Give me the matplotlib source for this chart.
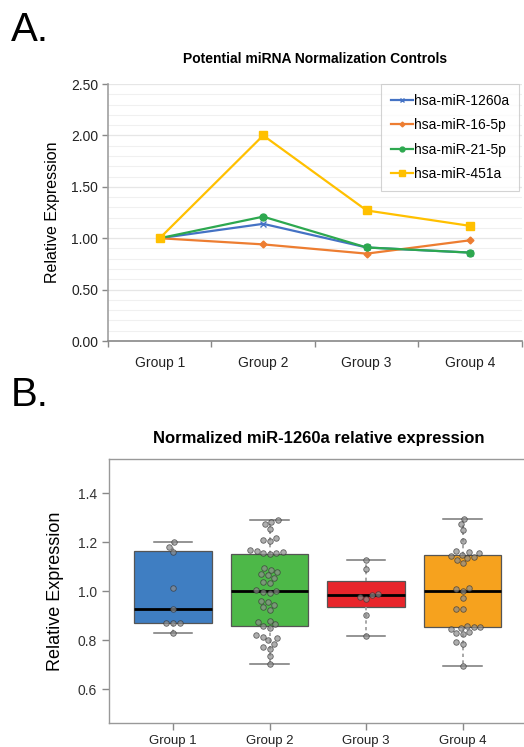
import numpy as np
import pandas as pd
import matplotlib
matplotlib.use("Agg")
import matplotlib.pyplot as plt
from matplotlib.ticker import MultipleLocator
import seaborn as sns

plt.rcParams['font.family'] = ['Liberation Sans', 'DejaVu Sans']

# ---- Panel A data: potential normalization controls ----
groups = ["Group 1", "Group 2", "Group 3", "Group 4"]
mir_1260a = [1.00, 1.14, 0.91, 0.86]
mir_16_5p = [1.00, 0.94, 0.85, 0.98]
mir_21_5p = [1.00, 1.21, 0.91, 0.86]
mir_451a = [1.00, 2.00, 1.27, 1.12]

# ---- Panel B data: normalized miR-1260a per sample ----
g1_vals = [1.20, 1.182, 1.162, 1.015, 0.928, 0.871, 0.871, 0.871, 0.829]
g2_vals = [1.293, 1.285, 1.275, 1.255, 1.216, 1.21, 1.205, 1.168, 1.165, 1.16,
           1.158, 1.155, 1.152, 1.095, 1.088, 1.078, 1.072, 1.065, 1.055, 1.04,
           1.035, 1.005, 1.0, 0.998, 0.995, 0.96, 0.955, 0.945, 0.935, 0.925,
           0.88, 0.875, 0.865, 0.858, 0.85, 0.82, 0.815, 0.808, 0.80, 0.785,
           0.775, 0.765, 0.735, 0.705]
g3_vals = [1.129, 1.093, 0.989, 0.984, 0.978, 0.97, 0.903, 0.816]
g4_vals = [1.297, 1.275, 1.25, 1.205, 1.165, 1.16, 1.155, 1.15, 1.145, 1.14,
           1.135, 1.13, 1.117, 1.012, 1.008, 1.002, 0.975, 0.928, 0.928, 0.86,
           0.856, 0.853, 0.85, 0.848, 0.835, 0.83, 0.825, 0.795, 0.785, 0.694]

# box statistics as drawn in the figure
box_q1 = [0.871, 0.858, 0.936, 0.854]
box_med = [0.928, 1.000, 0.984, 1.000]
box_q3 = [1.163, 1.152, 1.042, 1.147]
box_lo = [0.829, 0.705, 0.816, 0.694]
box_hi = [1.200, 1.293, 1.129, 1.297]
box_colors = ["#3F7EC2", "#4DB848", "#E8252B", "#F6A21E"]

fig = plt.figure(figsize=(5.24, 7.47), dpi=100)

# ================= Panel A =================
axA = fig.add_axes([0.206, 0.5435, 0.790, 0.344])
x = np.arange(len(groups))
axA.plot(x, mir_1260a, color="#4472C4", marker="x", ms=5, mew=1.0, lw=1.6, label="hsa-miR-1260a")
axA.plot(x, mir_16_5p, color="#ED7D31", marker="D", ms=3.5, lw=1.6, label="hsa-miR-16-5p")
axA.plot(x, mir_21_5p, color="#2DA84F", marker="o", ms=5, lw=1.6, label="hsa-miR-21-5p")
axA.plot(x, mir_451a, color="#FFC000", marker="s", ms=6, lw=1.6, label="hsa-miR-451a")

axA.set_xlim(-0.5, 3.42)
axA.set_ylim(0, 2.5)
axA.yaxis.set_minor_locator(MultipleLocator(0.1))
axA.set_yticks(np.arange(0, 2.51, 0.5))
axA.set_yticklabels([f"{v:.2f}" for v in np.arange(0, 2.51, 0.5)], fontsize=10, color="#222222")
axA.set_xticks(x)
axA.set_xticklabels(groups, fontsize=10, color="#222222")
axA.set_xticks(np.arange(-0.5, 3.6, 1.0), minor=True)
axA.tick_params(axis="x", which="major", length=0, pad=11)
axA.tick_params(axis="x", which="minor", length=4, color="#888888", width=1)
axA.tick_params(axis="y", which="major", length=4, color="#888888", width=1, pad=3)
axA.tick_params(axis="y", which="minor", length=0)
axA.grid(True, axis="y", which="major", color="#E6E6E6", lw=0.9)
axA.grid(True, axis="y", which="minor", color="#F0F0F0", lw=0.8)
axA.set_axisbelow(True)
for s in ["top", "right"]:
    axA.spines[s].set_visible(False)
axA.spines["left"].set_color("#A0A0A0")
axA.spines["bottom"].set_color("#888888")
axA.spines["left"].set_linewidth(1.2)
axA.spines["bottom"].set_linewidth(1.2)
axA.set_ylabel("Relative Expression", fontsize=11.5, labelpad=8)
axA.set_title("Potential miRNA Normalization Controls", fontsize=10, fontweight="bold", pad=15)

leg = axA.legend(loc="upper right", bbox_to_anchor=(0.993, 1.0), borderaxespad=0,
                 fontsize=10, frameon=True, fancybox=False, edgecolor="#C8C8C8",
                 handlelength=1.6, handletextpad=0.1, borderpad=0.7, labelspacing=0.75,
                 markerscale=0.7)
leg.get_frame().set_linewidth(0.8)

fig.text(0.02, 0.985, "A.", fontsize=29, va="top", ha="left")

# ================= Panel B =================
axB = fig.add_axes([0.208, 0.0325, 0.80, 0.3526])
stats = []
for i in range(4):
    stats.append(dict(q1=box_q1[i], med=box_med[i], q3=box_q3[i],
                      whislo=box_lo[i], whishi=box_hi[i], fliers=[]))
bp = axB.bxp(stats, positions=range(4), widths=0.8, patch_artist=True,
             showfliers=False, manage_ticks=False,
             boxprops=dict(edgecolor="#555555", linewidth=0.9),
             medianprops=dict(color="black", linewidth=2.0),
             whiskerprops=dict(color="#999999", linewidth=1.2, linestyle=(0, (2, 2))),
             capprops=dict(color="#777777", linewidth=1.1), capwidths=0.4)
for patch, c in zip(bp["boxes"], box_colors):
    patch.set_facecolor(c)
    patch.set_zorder(2)

df = pd.DataFrame({
    "group": ["Group 1"] * len(g1_vals) + ["Group 2"] * len(g2_vals)
             + ["Group 3"] * len(g3_vals) + ["Group 4"] * len(g4_vals),
    "value": g1_vals + g2_vals + g3_vals + g4_vals,
})
sns.swarmplot(data=df, x="group", y="value", order=groups, ax=axB, size=4.0,
              color="#8C8C8C", edgecolor="#333333", linewidth=0.6, alpha=0.7, zorder=4)

axB.set_xlim(-0.663, 3.68)
axB.set_ylim(0.464, 1.539)
axB.set_yticks([0.6, 0.8, 1.0, 1.2, 1.4])
axB.set_yticklabels(["0.6", "0.8", "1.0", "1.2", "1.4"], fontsize=10, color="#333333")
axB.set_xticks(range(4))
axB.set_xticklabels(groups, fontsize=9.5, color="#222222")
axB.tick_params(axis="both", length=5, color="#888888", width=1)
axB.set_xlabel("")
axB.set_ylabel("Relative Expression", fontsize=13, labelpad=10)
for s in axB.spines.values():
    s.set_color("#999999")
    s.set_linewidth(1.0)
axB.set_title("Normalized miR-1260a relative expression", fontsize=12, fontweight="bold", pad=12)

fig.text(0.02, 0.497, "B.", fontsize=29, va="top", ha="left")

fig.savefig("out.png", dpi=100)
